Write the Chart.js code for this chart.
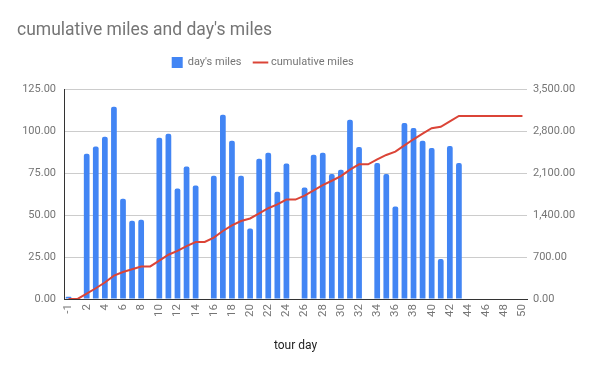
<!DOCTYPE html>
<html>
<head>
<meta charset="utf-8">
<script src="https://cdn.jsdelivr.net/npm/chart.js@4.4.1/dist/chart.umd.min.js"></script>
<style>
  html, body { margin: 0; padding: 0; background: #fff; }
  #wrap { width: 600px; height: 371px; }
</style>
</head>
<body>
<div id="wrap"><canvas id="chart" width="600" height="371"></canvas></div>
<script>
// tour days (second category shows no label and no miles)
const days = ["-1", "0", "2", "3", "4", "5", "6", "7", "8", "9", "10",
  "11", "12", "13", "14", "15", "16", "17", "18", "19", "20",
  "21", "22", "23", "24", "25", "26", "27", "28", "29", "30",
  "31", "32", "33", "34", "35", "36", "37", "38", "39", "40",
  "41", "42", "43", "44", "45", "46", "47", "48", "49", "50"];

// miles ridden each day
const dayMiles = [1.4, 0, 86.5, 90.7, 96.6, 114.5, 59.7, 46.6, 47.2, 0, 96,
  98.4, 65.7, 78.8, 67.5, 0, 73.4, 109.7, 94.2, 73.4, 41.9,
  83.5, 87.1, 63.9, 80.6, 0, 66.3, 85.9, 87.1, 74.4, 77,
  106.7, 90.5, 0, 81, 74.4, 55, 104.8, 101.8, 94.2, 89.9,
  23.8, 91.1, 81, 0, 0, 0, 0, 0, 0, 0];

// running total of miles
const cumulativeMiles = [1.4, 1.4, 88, 179, 275, 390, 449, 496, 543, 543, 639,
  738, 803, 882, 950, 950, 1023, 1133, 1227, 1300, 1342,
  1426, 1513, 1577, 1657, 1657, 1724, 1810, 1897, 1971, 2048,
  2155, 2245, 2245, 2326, 2401, 2456, 2560, 2662, 2756, 2846,
  2870, 2961, 3050, 3050, 3050, 3050, 3050, 3050, 3050, 3050];

const leftTicks = [0, 25, 50, 75, 100, 125];
const rightTicks = [0, 700, 1400, 2100, 2800, 3500];

const fontFamily = "Roboto, 'Noto Sans', sans-serif";
const fmt = function (v) {
  return v.toLocaleString("en-US", { minimumFractionDigits: 2, maximumFractionDigits: 2 });
};

// nudge title/legend like the google chart and leave room under the legend
const placeBoxes = {
  id: "placeBoxes",
  beforeInit: function (chart) {
    const fit = chart.legend.fit;
    chart.legend.fit = function () {
      fit.bind(chart.legend)();
      this.height = 46;
    };
  },
  beforeDraw: function (chart) {
    chart.titleBlock.left = 17;
    chart.legend.left = -37;
    chart.legend.right = 563;
  }
};

const ctx = document.getElementById("chart").getContext("2d");
new Chart(ctx, {
  data: {
    labels: days,
    datasets: [
      {
        type: "line",
        label: "cumulative miles",
        data: cumulativeMiles,
        yAxisID: "y2",
        borderColor: "#db4437",
        backgroundColor: "#db4437",
        borderWidth: 2,
        pointRadius: 0,
        pointStyle: "line",
        tension: 0,
        order: 0
      },
      {
        type: "bar",
        label: "day's miles",
        data: dayMiles,
        yAxisID: "y",
        backgroundColor: "#4285f4",
        borderWidth: 0,
        borderRadius: { topLeft: 2, topRight: 2 },
        borderSkipped: "bottom",
        pointStyle: "rect",
        categoryPercentage: 1,
        barPercentage: 0.63,
        order: 1
      }
    ]
  },
  options: {
    responsive: false,
    animation: false,
    layout: { padding: 0 },
    plugins: {
      title: {
        display: true,
        text: "cumulative miles and day's miles",
        align: "start",
        color: "#757575",
        font: { family: fontFamily, size: 17.5, weight: "normal" },
        padding: { top: 20, bottom: 2 }
      },
      legend: {
        display: true,
        position: "top",
        reverse: true,
        labels: {
          usePointStyle: true,
          color: "#757575",
          font: { family: fontFamily, size: 11 },
          boxWidth: 10,
          boxHeight: 11,
          padding: 14
        }
      },
      tooltip: { enabled: false }
    },
    scales: {
      x: {
        grid: { display: false, drawTicks: false },
        border: { display: true, color: "#333", width: 1 },
        ticks: {
          autoSkip: false,
          maxRotation: 90,
          minRotation: 90,
          padding: 5,
          color: "#757575",
          font: { family: fontFamily, size: 11.5 },
          callback: function (val, idx) {
            return idx % 2 === 0 ? days[idx] : "";
          }
        },
        title: {
          display: true,
          text: "tour day",
          color: "#222",
          font: { family: fontFamily, size: 12 },
          padding: { top: 0, bottom: 18 }
        },
        afterFit: function (scale) { scale.height = 72; }
      },
      y: {
        position: "left",
        min: 0,
        max: 125,
        afterBuildTicks: function (scale) {
          scale.ticks = leftTicks.map(function (v) { return { value: v }; });
        },
        grid: { color: "#cccccc", drawTicks: false },
        border: { display: true, color: "#333", width: 1 },
        ticks: {
          padding: 8,
          color: "#757575",
          font: { family: fontFamily, size: 11 },
          callback: function (v) { return fmt(v); }
        },
        afterFit: function (scale) { scale.width = 64; }
      },
      y2: {
        position: "right",
        min: 0,
        max: 3500,
        afterBuildTicks: function (scale) {
          scale.ticks = rightTicks.map(function (v) { return { value: v }; });
        },
        grid: { drawOnChartArea: false, drawTicks: false },
        border: { display: false },
        ticks: {
          padding: 6,
          color: "#757575",
          font: { family: fontFamily, size: 11 },
          callback: function (v) { return fmt(v); }
        },
        afterFit: function (scale) { scale.width = 73; }
      }
    }
  },
  plugins: [placeBoxes]
});
</script>
</body>
</html>
